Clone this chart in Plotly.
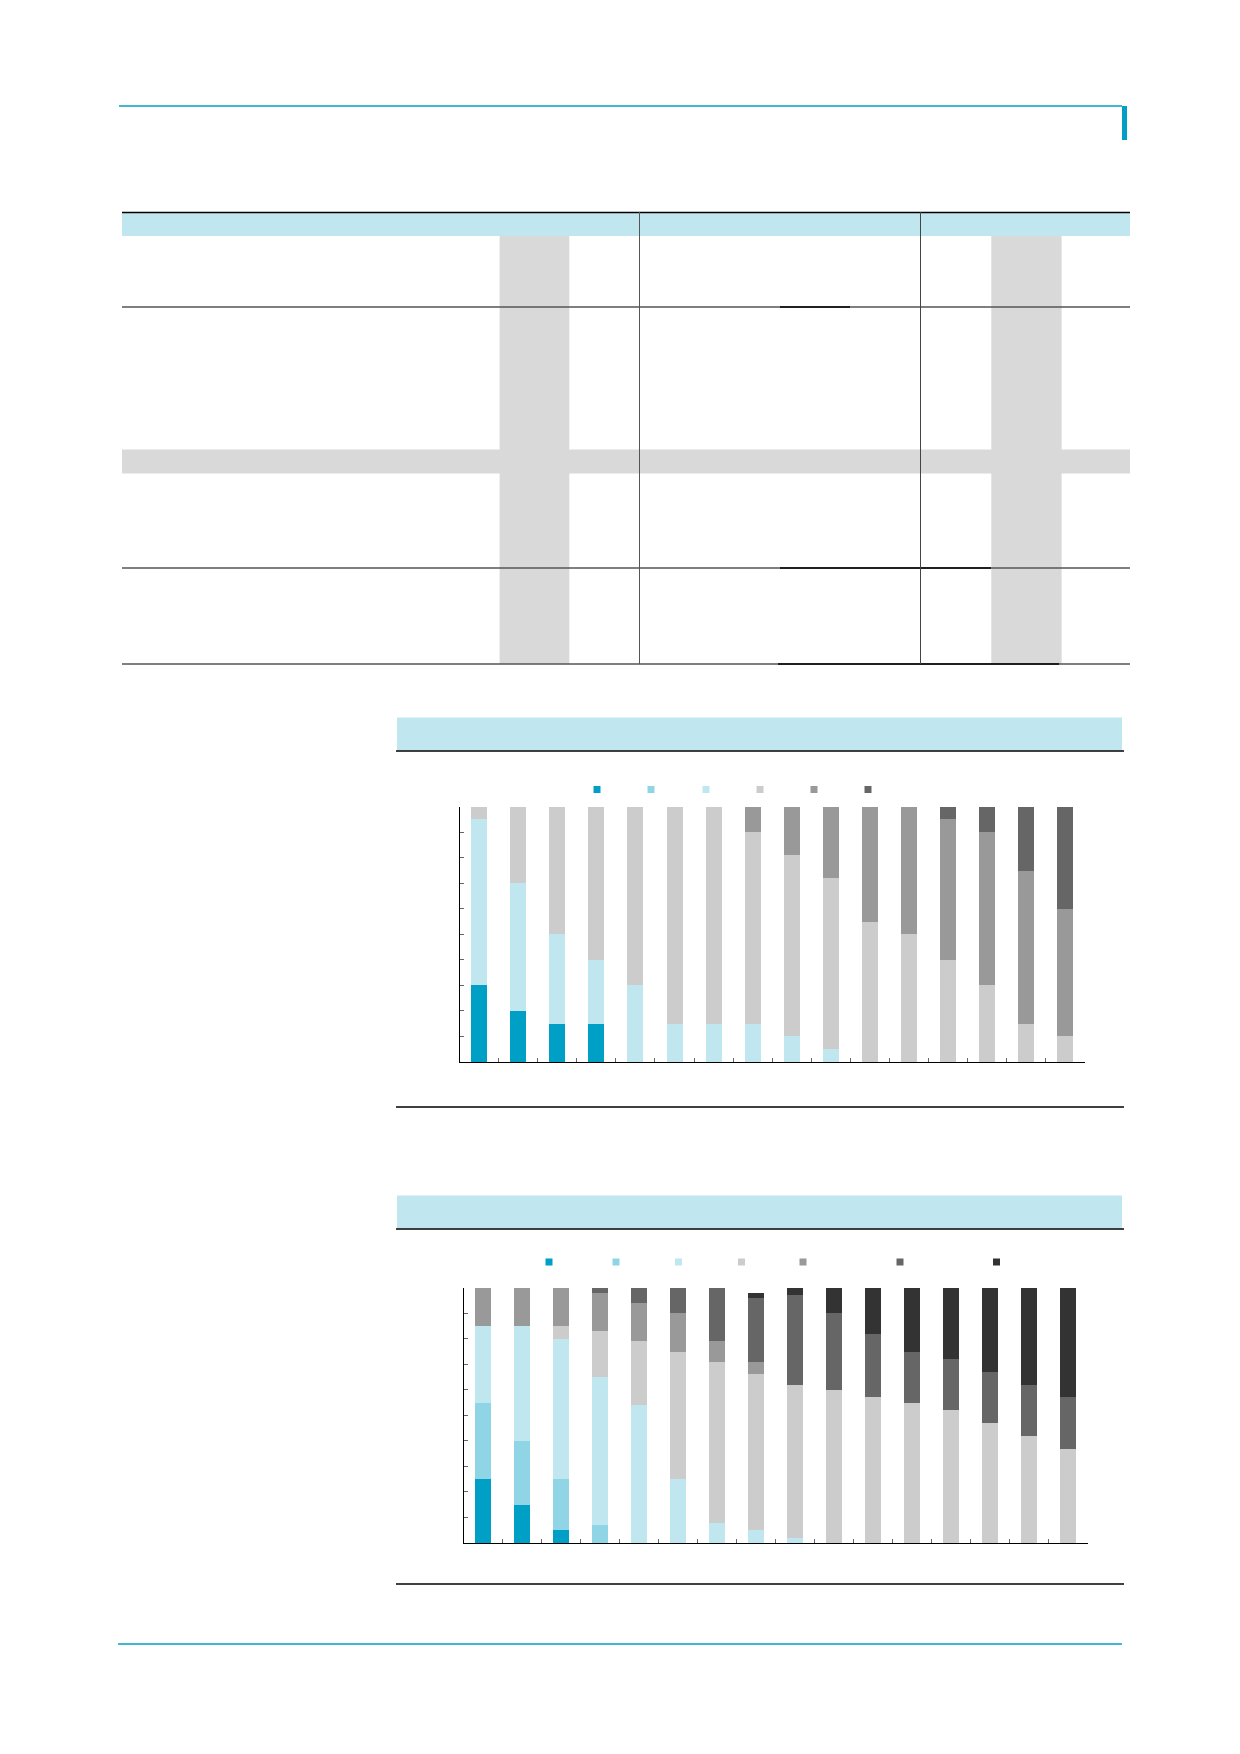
import plotly.graph_objects as go

W, H = 1240, 1754

def fx(x):
    return x / W

def fy(y):
    return 1 - y / H

# ---------------- data ----------------
categories = [str(i) for i in range(1, 17)]

colors = ["#00a0c6", "#8fd5e5", "#c0e7f0", "#cccccc", "#999999", "#666666", "#333333"]

c1_s1 = [30, 20, 15, 15, 0, 0, 0, 0, 0, 0, 0, 0, 0, 0, 0, 0]
c1_s2 = [0, 0, 0, 0, 0, 0, 0, 0, 0, 0, 0, 0, 0, 0, 0, 0]
c1_s3 = [65, 50, 35, 25, 30, 15, 15, 15, 10, 5, 0, 0, 0, 0, 0, 0]
c1_s4 = [5, 30, 50, 60, 70, 85, 85, 75, 71, 67, 55, 50, 40, 30, 15, 10]
c1_s5 = [0, 0, 0, 0, 0, 0, 0, 10, 19, 28, 45, 50, 55, 60, 60, 50]
c1_s6 = [0, 0, 0, 0, 0, 0, 0, 0, 0, 0, 0, 0, 5, 10, 25, 40]

c2_s1 = [25, 15, 5, 0, 0, 0, 0, 0, 0, 0, 0, 0, 0, 0, 0, 0]
c2_s2 = [30, 25, 20, 7, 0, 0, 0, 0, 0, 0, 0, 0, 0, 0, 0, 0]
c2_s3 = [30, 45, 55, 58, 54, 25, 8, 5, 2, 0, 0, 0, 0, 0, 0, 0]
c2_s4 = [0, 0, 5, 18, 25, 50, 63, 61, 60, 60, 57, 55, 52, 47, 42, 37]
c2_s5 = [15, 15, 15, 15, 15, 15, 8, 5, 0, 0, 0, 0, 0, 0, 0, 0]
c2_s6 = [0, 0, 0, 2, 6, 10, 21, 25, 35, 30, 25, 20, 20, 20, 20, 20]
c2_s7 = [0, 0, 0, 0, 0, 0, 0, 2, 3, 10, 18, 25, 28, 33, 38, 43]

chart1_series = [c1_s1, c1_s2, c1_s3, c1_s4, c1_s5, c1_s6]
chart2_series = [c2_s1, c2_s2, c2_s3, c2_s4, c2_s5, c2_s6, c2_s7]

# legend key centres (page pixels)
leg1_x = [597, 651, 706, 760, 814, 868]
leg1_y = 789.5
leg2_x = [549, 616, 678.5, 741.5, 803, 900, 996.5]
leg2_y = 1262

fig = go.Figure()

# ---------------- bars ----------------
for vals, col in zip(chart1_series, colors):
    fig.add_trace(go.Bar(x=categories, y=vals, marker=dict(color=col, line=dict(width=0)),
                         showlegend=False, xaxis="x", yaxis="y"))
for vals, col in zip(chart2_series, colors):
    fig.add_trace(go.Bar(x=categories, y=vals, marker=dict(color=col, line=dict(width=0)),
                         showlegend=False, xaxis="x2", yaxis="y2"))

# ---------------- legends (one per key) ----------------
LEG_OFF = 20
legends = {}
n = 1
for i, cx in enumerate(leg1_x):
    key = "legend" if n == 1 else f"legend{n}"
    fig.add_trace(go.Scatter(x=[None], y=[None], mode="markers", name="",
                             marker=dict(symbol="square", size=7, color=colors[i]),
                             legend=key, xaxis="x", yaxis="y"))
    legends[key] = dict(x=fx(cx - LEG_OFF), y=fy(leg1_y), xanchor="left", yanchor="middle",
                        orientation="h", bgcolor="rgba(0,0,0,0)", font=dict(size=8),
                        itemsizing="trace")
    n += 1
for i, cx in enumerate(leg2_x):
    key = f"legend{n}"
    fig.add_trace(go.Scatter(x=[None], y=[None], mode="markers", name="",
                             marker=dict(symbol="square", size=7, color=colors[i]),
                             legend=key, xaxis="x2", yaxis="y2"))
    legends[key] = dict(x=fx(cx - LEG_OFF), y=fy(leg2_y), xanchor="left", yanchor="middle",
                        orientation="h", bgcolor="rgba(0,0,0,0)", font=dict(size=8),
                        itemsizing="trace")
    n += 1

# ---------------- shapes ----------------
shapes = []

def rect(x0, y0, x1, y1, color, layer="below"):
    shapes.append(dict(type="rect", xref="paper", yref="paper", x0=fx(x0), x1=fx(x1),
                       y0=fy(y1), y1=fy(y0), fillcolor=color, line=dict(width=0), layer=layer))

def hline(x0, x1, y, color, w=1):
    shapes.append(dict(type="line", xref="paper", yref="paper", x0=fx(x0), x1=fx(x1),
                       y0=fy(y), y1=fy(y), line=dict(color=color, width=w)))

def vline(x, y0, y1, color, w=1):
    shapes.append(dict(type="line", xref="paper", yref="paper", x0=fx(x), x1=fx(x),
                       y0=fy(y0), y1=fy(y1), line=dict(color=color, width=w)))

TEAL = "#00a0c6"
LIGHT = "#c0e7f0"
BAND = "#d9d9d9"
RULE = "#555555"

# page header / footer
hline(119, 1122, 106, TEAL, 1.3)
rect(1122, 106, 1127, 140, TEAL)
hline(118, 1122, 1644, TEAL, 1.3)

# table
rect(122, 212, 1130, 236, LIGHT)
hline(122, 1130, 307, RULE, 1.5)
hline(122, 1130, 568, RULE, 1.5)
hline(122, 1130, 664, RULE, 1.5)
rect(122, 449.5, 1130, 473.5, BAND)
rect(499.6, 236, 569.3, 664, BAND)
rect(991.3, 236, 1061.6, 664, BAND)
hline(122, 1130, 212.5, "#000000", 1.5)
hline(780, 850, 307, "#000000", 1.5)
hline(780, 991, 568, "#000000", 1.5)
hline(778, 1059, 664, "#000000", 1.5)
vline(639.5, 212, 664, RULE, 1)
vline(920.5, 212, 664, "#444444", 1)

# chart 1 frame
rect(397, 717.5, 1122, 750.5, LIGHT)
hline(396, 1124, 751, "#000000", 1.5)
hline(396, 1124, 1107, "#000000", 1.5)

# chart 2 frame
rect(397, 1195.5, 1122, 1228.5, LIGHT)
hline(396, 1124, 1229, "#000000", 1.5)
hline(396, 1124, 1584, "#000000", 1.5)

# ---------------- axes ----------------
xcommon = dict(type="category", range=[-0.5, 15.5], tickson="boundaries", ticks="inside",
               ticklen=4, tickcolor="#666666", tickwidth=1, showticklabels=False,
               showline=True, linecolor="#000000", linewidth=1, showgrid=False, zeroline=False)
ycommon = dict(range=[0, 100], dtick=10, tick0=0, ticks="inside", ticklen=4,
               tickcolor="#666666", tickwidth=1, showticklabels=False, showline=True,
               linecolor="#000000", linewidth=1, showgrid=False, zeroline=False)

layout = dict(
    width=W, height=H, autosize=False,
    margin=dict(l=0, r=0, t=0, b=0),
    paper_bgcolor="white", plot_bgcolor="white",
    barmode="stack", bargap=0.59,
    font=dict(family="Liberation Sans"),
    xaxis=dict(domain=[fx(459.5), fx(1085)], anchor="y", **xcommon),
    yaxis=dict(domain=[fy(1062), fy(806.7)], anchor="x", **ycommon),
    xaxis2=dict(domain=[fx(463.8), fx(1087.8)], anchor="y2", **xcommon),
    yaxis2=dict(domain=[fy(1543), fy(1287.7)], anchor="x2", **ycommon),
    shapes=shapes,
)
layout.update(legends)
fig.update_layout(**layout)

fig.write_html("out.html")
